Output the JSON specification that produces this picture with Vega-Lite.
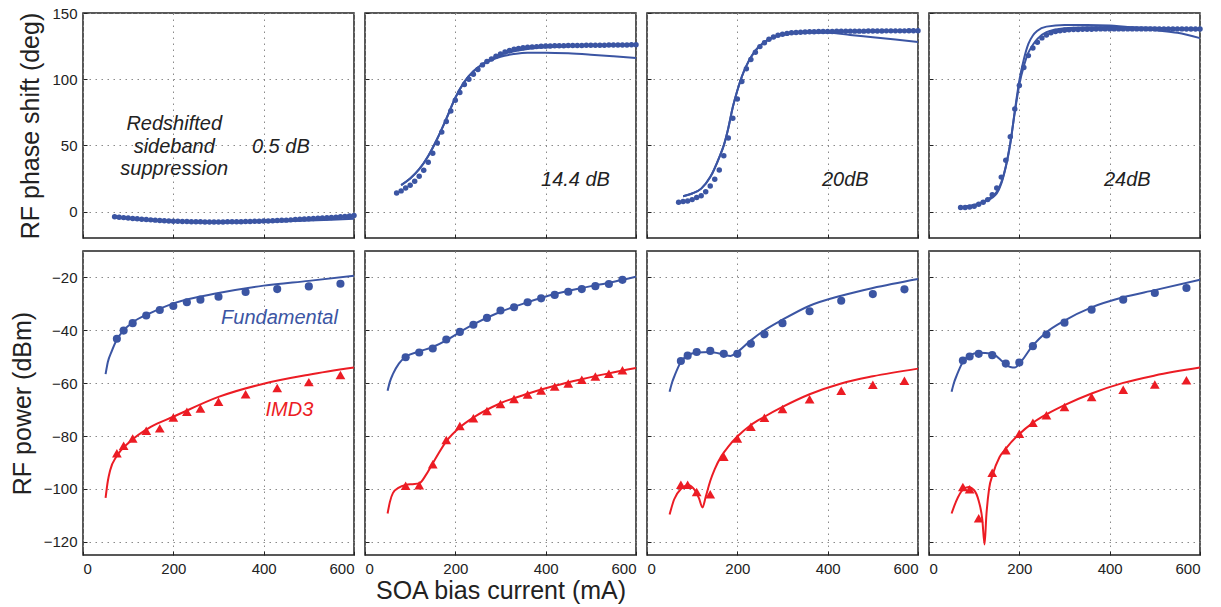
{
"$schema": "https://vega.github.io/schema/vega-lite/v6.json",
"padding": {"left": 9, "top": 5, "right": 5, "bottom": 5},
"background": "white",
"config": {
  "view": {"stroke": "#222222", "strokeWidth": 1.5},
  "axis": {"domain": false, "grid": true, "gridColor": "#8a8a8a", "gridDash": [1.5, 4.5], "gridWidth": 1, "ticks": true, "tickColor": "#222222", "tickSize": -4, "labelPadding": 10, "labelFont": "Liberation Sans", "labelFontSize": 15, "labelColor": "#222222", "titleFont": "Liberation Sans", "titleFontSize": 25, "titleFontWeight": "normal", "titleColor": "#222222", "titlePadding": 8}
},
"datasets": {
"phase": [
{"p":1,"k":"dot","x":70,"y":-4.0},{"p":1,"k":"dot","x":80,"y":-4.3},{"p":1,"k":"dot","x":90,"y":-4.6},{"p":1,"k":"dot","x":100,"y":-4.9},{"p":1,"k":"dot","x":110,"y":-5.2},{"p":1,"k":"dot","x":120,"y":-5.5},{"p":1,"k":"dot","x":130,"y":-5.8},{"p":1,"k":"dot","x":140,"y":-6.0},{"p":1,"k":"dot","x":150,"y":-6.3},{"p":1,"k":"dot","x":160,"y":-6.5},{"p":1,"k":"dot","x":170,"y":-6.7},{"p":1,"k":"dot","x":180,"y":-6.9},{"p":1,"k":"dot","x":190,"y":-7.1},{"p":1,"k":"dot","x":200,"y":-7.3},{"p":1,"k":"dot","x":210,"y":-7.4},{"p":1,"k":"dot","x":220,"y":-7.5},{"p":1,"k":"dot","x":230,"y":-7.6},{"p":1,"k":"dot","x":240,"y":-7.7},{"p":1,"k":"dot","x":250,"y":-7.8},{"p":1,"k":"dot","x":260,"y":-7.8},{"p":1,"k":"dot","x":270,"y":-7.9},{"p":1,"k":"dot","x":280,"y":-7.9},{"p":1,"k":"dot","x":290,"y":-7.9},{"p":1,"k":"dot","x":300,"y":-7.9},{"p":1,"k":"dot","x":310,"y":-7.9},{"p":1,"k":"dot","x":320,"y":-7.8},{"p":1,"k":"dot","x":330,"y":-7.8},{"p":1,"k":"dot","x":340,"y":-7.7},{"p":1,"k":"dot","x":350,"y":-7.7},{"p":1,"k":"dot","x":360,"y":-7.6},{"p":1,"k":"dot","x":370,"y":-7.5},{"p":1,"k":"dot","x":380,"y":-7.4},{"p":1,"k":"dot","x":390,"y":-7.3},{"p":1,"k":"dot","x":400,"y":-7.2},{"p":1,"k":"dot","x":410,"y":-7.1},{"p":1,"k":"dot","x":420,"y":-6.9},{"p":1,"k":"dot","x":430,"y":-6.8},{"p":1,"k":"dot","x":440,"y":-6.6},{"p":1,"k":"dot","x":450,"y":-6.5},{"p":1,"k":"dot","x":460,"y":-6.3},{"p":1,"k":"dot","x":470,"y":-6.1},{"p":1,"k":"dot","x":480,"y":-5.9},{"p":1,"k":"dot","x":490,"y":-5.7},{"p":1,"k":"dot","x":500,"y":-5.5},{"p":1,"k":"dot","x":510,"y":-5.3},{"p":1,"k":"dot","x":520,"y":-5.1},{"p":1,"k":"dot","x":530,"y":-4.9},{"p":1,"k":"dot","x":540,"y":-4.7},{"p":1,"k":"dot","x":550,"y":-4.5},{"p":1,"k":"dot","x":560,"y":-4.3},{"p":1,"k":"dot","x":570,"y":-4.0},{"p":1,"k":"dot","x":580,"y":-3.7},{"p":1,"k":"dot","x":590,"y":-3.4},{"p":1,"k":"dot","x":600,"y":-3.0},
{"p":1,"k":"a","x":70,"y":-4.5},{"p":1,"k":"a","x":100,"y":-5.5},{"p":1,"k":"a","x":150,"y":-6.8},{"p":1,"k":"a","x":200,"y":-7.7},{"p":1,"k":"a","x":250,"y":-8.2},{"p":1,"k":"a","x":300,"y":-8.4},{"p":1,"k":"a","x":350,"y":-8.2},{"p":1,"k":"a","x":400,"y":-7.9},{"p":1,"k":"a","x":450,"y":-7.3},{"p":1,"k":"a","x":500,"y":-6.8},{"p":1,"k":"a","x":550,"y":-6.2},{"p":1,"k":"a","x":600,"y":-5.5},
{"p":1,"k":"b","x":70,"y":-4.2},{"p":1,"k":"b","x":150,"y":-6.4},{"p":1,"k":"b","x":250,"y":-7.9},{"p":1,"k":"b","x":350,"y":-7.8},{"p":1,"k":"b","x":450,"y":-6.6},{"p":1,"k":"b","x":550,"y":-4.8},{"p":1,"k":"b","x":600,"y":-3.8},
{"p":2,"k":"dot","x":70,"y":14},{"p":2,"k":"dot","x":80,"y":15.6},{"p":2,"k":"dot","x":90,"y":17.8},{"p":2,"k":"dot","x":100,"y":19.8},{"p":2,"k":"dot","x":110,"y":22.9},{"p":2,"k":"dot","x":120,"y":26.6},{"p":2,"k":"dot","x":130,"y":31.2},{"p":2,"k":"dot","x":140,"y":37.2},{"p":2,"k":"dot","x":150,"y":44},{"p":2,"k":"dot","x":160,"y":51.8},{"p":2,"k":"dot","x":170,"y":60},{"p":2,"k":"dot","x":180,"y":68},{"p":2,"k":"dot","x":190,"y":76},{"p":2,"k":"dot","x":200,"y":84},{"p":2,"k":"dot","x":210,"y":90},{"p":2,"k":"dot","x":220,"y":96},{"p":2,"k":"dot","x":230,"y":100},{"p":2,"k":"dot","x":240,"y":103.8},{"p":2,"k":"dot","x":250,"y":107.3},{"p":2,"k":"dot","x":260,"y":110.8},{"p":2,"k":"dot","x":270,"y":113.3},{"p":2,"k":"dot","x":280,"y":115.3},{"p":2,"k":"dot","x":290,"y":117.3},{"p":2,"k":"dot","x":300,"y":119},{"p":2,"k":"dot","x":310,"y":120.6},{"p":2,"k":"dot","x":320,"y":121.6},{"p":2,"k":"dot","x":330,"y":122.6},{"p":2,"k":"dot","x":340,"y":123.2},{"p":2,"k":"dot","x":350,"y":123.7},{"p":2,"k":"dot","x":360,"y":124.1},{"p":2,"k":"dot","x":370,"y":124.4},{"p":2,"k":"dot","x":380,"y":124.6},{"p":2,"k":"dot","x":390,"y":124.8},{"p":2,"k":"dot","x":400,"y":125},{"p":2,"k":"dot","x":410,"y":125.1},{"p":2,"k":"dot","x":420,"y":125.2},{"p":2,"k":"dot","x":430,"y":125.3},{"p":2,"k":"dot","x":440,"y":125.3},{"p":2,"k":"dot","x":450,"y":125.4},{"p":2,"k":"dot","x":460,"y":125.4},{"p":2,"k":"dot","x":470,"y":125.5},{"p":2,"k":"dot","x":480,"y":125.5},{"p":2,"k":"dot","x":490,"y":125.6},{"p":2,"k":"dot","x":500,"y":125.6},{"p":2,"k":"dot","x":510,"y":125.7},{"p":2,"k":"dot","x":520,"y":125.7},{"p":2,"k":"dot","x":530,"y":125.7},{"p":2,"k":"dot","x":540,"y":125.8},{"p":2,"k":"dot","x":550,"y":125.8},{"p":2,"k":"dot","x":560,"y":125.8},{"p":2,"k":"dot","x":570,"y":125.9},{"p":2,"k":"dot","x":580,"y":125.9},{"p":2,"k":"dot","x":590,"y":126},{"p":2,"k":"dot","x":600,"y":126},
{"p":2,"k":"a","x":80,"y":20},{"p":2,"k":"a","x":100,"y":25},{"p":2,"k":"a","x":120,"y":32},{"p":2,"k":"a","x":140,"y":42},{"p":2,"k":"a","x":160,"y":55},{"p":2,"k":"a","x":180,"y":70},{"p":2,"k":"a","x":200,"y":86},{"p":2,"k":"a","x":220,"y":98},{"p":2,"k":"a","x":240,"y":106},{"p":2,"k":"a","x":260,"y":111},{"p":2,"k":"a","x":280,"y":114.5},{"p":2,"k":"a","x":300,"y":117},{"p":2,"k":"a","x":330,"y":119},{"p":2,"k":"a","x":360,"y":120},{"p":2,"k":"a","x":400,"y":120},{"p":2,"k":"a","x":450,"y":119.5},{"p":2,"k":"a","x":500,"y":118.5},{"p":2,"k":"a","x":550,"y":117.3},{"p":2,"k":"a","x":600,"y":116},
{"p":2,"k":"b","x":80,"y":20},{"p":2,"k":"b","x":100,"y":25},{"p":2,"k":"b","x":120,"y":32},{"p":2,"k":"b","x":140,"y":42},{"p":2,"k":"b","x":160,"y":55},{"p":2,"k":"b","x":180,"y":70},{"p":2,"k":"b","x":200,"y":86},{"p":2,"k":"b","x":220,"y":98},{"p":2,"k":"b","x":240,"y":106},{"p":2,"k":"b","x":260,"y":111.5},{"p":2,"k":"b","x":280,"y":115.5},{"p":2,"k":"b","x":300,"y":118.5},{"p":2,"k":"b","x":330,"y":121},{"p":2,"k":"b","x":360,"y":122.8},{"p":2,"k":"b","x":400,"y":124},{"p":2,"k":"b","x":450,"y":124.8},{"p":2,"k":"b","x":500,"y":125.3},{"p":2,"k":"b","x":550,"y":125.7},{"p":2,"k":"b","x":600,"y":126},
{"p":3,"k":"dot","x":70,"y":7},{"p":3,"k":"dot","x":80,"y":7.5},{"p":3,"k":"dot","x":90,"y":8},{"p":3,"k":"dot","x":100,"y":9},{"p":3,"k":"dot","x":110,"y":10.6},{"p":3,"k":"dot","x":120,"y":12},{"p":3,"k":"dot","x":130,"y":15},{"p":3,"k":"dot","x":140,"y":19.3},{"p":3,"k":"dot","x":150,"y":24.4},{"p":3,"k":"dot","x":160,"y":31.4},{"p":3,"k":"dot","x":170,"y":42.2},{"p":3,"k":"dot","x":180,"y":55.5},{"p":3,"k":"dot","x":190,"y":70.4},{"p":3,"k":"dot","x":200,"y":85},{"p":3,"k":"dot","x":210,"y":98.2},{"p":3,"k":"dot","x":220,"y":107.8},{"p":3,"k":"dot","x":230,"y":114.8},{"p":3,"k":"dot","x":240,"y":120.4},{"p":3,"k":"dot","x":250,"y":124.6},{"p":3,"k":"dot","x":260,"y":127.6},{"p":3,"k":"dot","x":270,"y":130.2},{"p":3,"k":"dot","x":280,"y":131.9},{"p":3,"k":"dot","x":290,"y":133.2},{"p":3,"k":"dot","x":300,"y":134},{"p":3,"k":"dot","x":310,"y":134.6},{"p":3,"k":"dot","x":320,"y":135},{"p":3,"k":"dot","x":330,"y":135.3},{"p":3,"k":"dot","x":340,"y":135.5},{"p":3,"k":"dot","x":350,"y":135.7},{"p":3,"k":"dot","x":360,"y":135.8},{"p":3,"k":"dot","x":370,"y":135.9},{"p":3,"k":"dot","x":380,"y":136},{"p":3,"k":"dot","x":390,"y":136},{"p":3,"k":"dot","x":400,"y":136.1},{"p":3,"k":"dot","x":410,"y":136.1},{"p":3,"k":"dot","x":420,"y":136.2},{"p":3,"k":"dot","x":430,"y":136.2},{"p":3,"k":"dot","x":440,"y":136.2},{"p":3,"k":"dot","x":450,"y":136.3},{"p":3,"k":"dot","x":460,"y":136.3},{"p":3,"k":"dot","x":470,"y":136.3},{"p":3,"k":"dot","x":480,"y":136.3},{"p":3,"k":"dot","x":490,"y":136.4},{"p":3,"k":"dot","x":500,"y":136.4},{"p":3,"k":"dot","x":510,"y":136.4},{"p":3,"k":"dot","x":520,"y":136.4},{"p":3,"k":"dot","x":530,"y":136.5},{"p":3,"k":"dot","x":540,"y":136.5},{"p":3,"k":"dot","x":550,"y":136.5},{"p":3,"k":"dot","x":560,"y":136.5},{"p":3,"k":"dot","x":570,"y":136.5},{"p":3,"k":"dot","x":580,"y":136.6},{"p":3,"k":"dot","x":590,"y":136.6},{"p":3,"k":"dot","x":600,"y":136.6},
{"p":3,"k":"a","x":80,"y":11.6},{"p":3,"k":"a","x":100,"y":13.6},{"p":3,"k":"a","x":120,"y":17.3},{"p":3,"k":"a","x":140,"y":26},{"p":3,"k":"a","x":160,"y":41},{"p":3,"k":"a","x":170,"y":50},{"p":3,"k":"a","x":180,"y":63},{"p":3,"k":"a","x":190,"y":79},{"p":3,"k":"a","x":200,"y":91.5},{"p":3,"k":"a","x":210,"y":102},{"p":3,"k":"a","x":220,"y":110},{"p":3,"k":"a","x":230,"y":116.5},{"p":3,"k":"a","x":240,"y":121.6},{"p":3,"k":"a","x":260,"y":128},{"p":3,"k":"a","x":280,"y":131.7},{"p":3,"k":"a","x":300,"y":133.7},{"p":3,"k":"a","x":350,"y":135},{"p":3,"k":"a","x":400,"y":135},{"p":3,"k":"a","x":450,"y":133.4},{"p":3,"k":"a","x":500,"y":131.7},{"p":3,"k":"a","x":550,"y":130},{"p":3,"k":"a","x":600,"y":128},
{"p":3,"k":"b","x":80,"y":11.6},{"p":3,"k":"b","x":100,"y":13.6},{"p":3,"k":"b","x":120,"y":17.3},{"p":3,"k":"b","x":140,"y":26},{"p":3,"k":"b","x":160,"y":41},{"p":3,"k":"b","x":170,"y":50},{"p":3,"k":"b","x":180,"y":63},{"p":3,"k":"b","x":190,"y":79},{"p":3,"k":"b","x":200,"y":91.5},{"p":3,"k":"b","x":210,"y":102},{"p":3,"k":"b","x":220,"y":110},{"p":3,"k":"b","x":230,"y":116.5},{"p":3,"k":"b","x":240,"y":121.6},{"p":3,"k":"b","x":260,"y":128},{"p":3,"k":"b","x":280,"y":131.7},{"p":3,"k":"b","x":300,"y":133.8},{"p":3,"k":"b","x":350,"y":135.5},{"p":3,"k":"b","x":400,"y":136},{"p":3,"k":"b","x":450,"y":136.2},{"p":3,"k":"b","x":500,"y":136.3},{"p":3,"k":"b","x":550,"y":136.4},{"p":3,"k":"b","x":600,"y":136.5},
{"p":4,"k":"dot","x":70,"y":3},{"p":4,"k":"dot","x":80,"y":3},{"p":4,"k":"dot","x":90,"y":3.5},{"p":4,"k":"dot","x":100,"y":4},{"p":4,"k":"dot","x":110,"y":5.5},{"p":4,"k":"dot","x":120,"y":7},{"p":4,"k":"dot","x":130,"y":9},{"p":4,"k":"dot","x":140,"y":12.6},{"p":4,"k":"dot","x":150,"y":17.8},{"p":4,"k":"dot","x":160,"y":26},{"p":4,"k":"dot","x":170,"y":38.7},{"p":4,"k":"dot","x":180,"y":56.5},{"p":4,"k":"dot","x":190,"y":77.4},{"p":4,"k":"dot","x":200,"y":95.2},{"p":4,"k":"dot","x":210,"y":108.8},{"p":4,"k":"dot","x":220,"y":117.8},{"p":4,"k":"dot","x":230,"y":123.6},{"p":4,"k":"dot","x":240,"y":127.9},{"p":4,"k":"dot","x":250,"y":131.2},{"p":4,"k":"dot","x":260,"y":133.4},{"p":4,"k":"dot","x":270,"y":135},{"p":4,"k":"dot","x":280,"y":136},{"p":4,"k":"dot","x":290,"y":136.6},{"p":4,"k":"dot","x":300,"y":137},{"p":4,"k":"dot","x":310,"y":137.3},{"p":4,"k":"dot","x":320,"y":137.5},{"p":4,"k":"dot","x":330,"y":137.6},{"p":4,"k":"dot","x":340,"y":137.7},{"p":4,"k":"dot","x":350,"y":137.8},{"p":4,"k":"dot","x":360,"y":137.8},{"p":4,"k":"dot","x":370,"y":137.9},{"p":4,"k":"dot","x":380,"y":138},{"p":4,"k":"dot","x":390,"y":138},{"p":4,"k":"dot","x":400,"y":138},{"p":4,"k":"dot","x":410,"y":138},{"p":4,"k":"dot","x":420,"y":138},{"p":4,"k":"dot","x":430,"y":138},{"p":4,"k":"dot","x":440,"y":138},{"p":4,"k":"dot","x":450,"y":138},{"p":4,"k":"dot","x":460,"y":138},{"p":4,"k":"dot","x":470,"y":138},{"p":4,"k":"dot","x":480,"y":138},{"p":4,"k":"dot","x":490,"y":138},{"p":4,"k":"dot","x":500,"y":138},{"p":4,"k":"dot","x":510,"y":138},{"p":4,"k":"dot","x":520,"y":138},{"p":4,"k":"dot","x":530,"y":138},{"p":4,"k":"dot","x":540,"y":138},{"p":4,"k":"dot","x":550,"y":138},{"p":4,"k":"dot","x":560,"y":138},{"p":4,"k":"dot","x":570,"y":137.9},{"p":4,"k":"dot","x":580,"y":137.9},{"p":4,"k":"dot","x":590,"y":137.9},{"p":4,"k":"dot","x":600,"y":137.9},
{"p":4,"k":"a","x":80,"y":4},{"p":4,"k":"a","x":100,"y":4.5},{"p":4,"k":"a","x":120,"y":7},{"p":4,"k":"a","x":140,"y":10.5},{"p":4,"k":"a","x":150,"y":13.6},{"p":4,"k":"a","x":160,"y":21},{"p":4,"k":"a","x":170,"y":33.7},{"p":4,"k":"a","x":180,"y":51},{"p":4,"k":"a","x":190,"y":76},{"p":4,"k":"a","x":200,"y":99},{"p":4,"k":"a","x":210,"y":115},{"p":4,"k":"a","x":220,"y":126.6},{"p":4,"k":"a","x":230,"y":133},{"p":4,"k":"a","x":240,"y":136.6},{"p":4,"k":"a","x":260,"y":139.7},{"p":4,"k":"a","x":300,"y":141},{"p":4,"k":"a","x":350,"y":141},{"p":4,"k":"a","x":400,"y":140.5},{"p":4,"k":"a","x":450,"y":139},{"p":4,"k":"a","x":500,"y":137},{"p":4,"k":"a","x":550,"y":135},{"p":4,"k":"a","x":600,"y":131},
{"p":4,"k":"b","x":80,"y":4},{"p":4,"k":"b","x":100,"y":5},{"p":4,"k":"b","x":120,"y":7.5},{"p":4,"k":"b","x":140,"y":11.5},{"p":4,"k":"b","x":150,"y":15},{"p":4,"k":"b","x":160,"y":22},{"p":4,"k":"b","x":170,"y":34},{"p":4,"k":"b","x":180,"y":52},{"p":4,"k":"b","x":190,"y":75},{"p":4,"k":"b","x":200,"y":96},{"p":4,"k":"b","x":210,"y":110},{"p":4,"k":"b","x":220,"y":120},{"p":4,"k":"b","x":230,"y":126},{"p":4,"k":"b","x":240,"y":130.5},{"p":4,"k":"b","x":260,"y":135.5},{"p":4,"k":"b","x":300,"y":138.5},{"p":4,"k":"b","x":350,"y":139.3},{"p":4,"k":"b","x":400,"y":139.5},{"p":4,"k":"b","x":450,"y":139.3},{"p":4,"k":"b","x":500,"y":138.9},{"p":4,"k":"b","x":550,"y":138.3},{"p":4,"k":"b","x":600,"y":137.6}
],
"power": [
{"p":1,"s":"F","k":"m","x":75,"y":-43.2},{"p":1,"s":"F","k":"m","x":90,"y":-40.1},{"p":1,"s":"F","k":"m","x":110,"y":-37.3},{"p":1,"s":"F","k":"m","x":140,"y":-34.4},{"p":1,"s":"F","k":"m","x":170,"y":-32.3},{"p":1,"s":"F","k":"m","x":200,"y":-30.8},{"p":1,"s":"F","k":"m","x":230,"y":-29.4},{"p":1,"s":"F","k":"m","x":260,"y":-28.4},{"p":1,"s":"F","k":"m","x":300,"y":-27.3},{"p":1,"s":"F","k":"m","x":360,"y":-25.5},{"p":1,"s":"F","k":"m","x":430,"y":-24.4},{"p":1,"s":"F","k":"m","x":500,"y":-23.4},{"p":1,"s":"F","k":"m","x":570,"y":-22.4},
{"p":1,"s":"F","k":"f","x":50,"y":-56.6},{"p":1,"s":"F","k":"f","x":55,"y":-52},{"p":1,"s":"F","k":"f","x":63,"y":-48.2},{"p":1,"s":"F","k":"f","x":75,"y":-43.5},{"p":1,"s":"F","k":"f","x":90,"y":-40},{"p":1,"s":"F","k":"f","x":110,"y":-37},{"p":1,"s":"F","k":"f","x":150,"y":-33.4},{"p":1,"s":"F","k":"f","x":200,"y":-29.8},{"p":1,"s":"F","k":"f","x":300,"y":-25.9},{"p":1,"s":"F","k":"f","x":400,"y":-23.1},{"p":1,"s":"F","k":"f","x":500,"y":-21.3},{"p":1,"s":"F","k":"f","x":600,"y":-19.4},
{"p":1,"s":"I","k":"m","x":75,"y":-86.5},{"p":1,"s":"I","k":"m","x":90,"y":-83.7},{"p":1,"s":"I","k":"m","x":110,"y":-80.9},{"p":1,"s":"I","k":"m","x":140,"y":-78},{"p":1,"s":"I","k":"m","x":170,"y":-77.1},{"p":1,"s":"I","k":"m","x":200,"y":-73},{"p":1,"s":"I","k":"m","x":230,"y":-70.8},{"p":1,"s":"I","k":"m","x":260,"y":-69.6},{"p":1,"s":"I","k":"m","x":300,"y":-67},{"p":1,"s":"I","k":"m","x":360,"y":-64.2},{"p":1,"s":"I","k":"m","x":430,"y":-61.8},{"p":1,"s":"I","k":"m","x":500,"y":-59.6},{"p":1,"s":"I","k":"m","x":570,"y":-56.9},
{"p":1,"s":"I","k":"f","x":50,"y":-103.4},{"p":1,"s":"I","k":"f","x":55,"y":-97},{"p":1,"s":"I","k":"f","x":60,"y":-93},{"p":1,"s":"I","k":"f","x":75,"y":-87.5},{"p":1,"s":"I","k":"f","x":100,"y":-82.7},{"p":1,"s":"I","k":"f","x":150,"y":-76.5},{"p":1,"s":"I","k":"f","x":200,"y":-72.7},{"p":1,"s":"I","k":"f","x":300,"y":-65.2},{"p":1,"s":"I","k":"f","x":400,"y":-60.2},{"p":1,"s":"I","k":"f","x":500,"y":-56.8},{"p":1,"s":"I","k":"f","x":600,"y":-54.1},
{"p":2,"s":"F","k":"m","x":90,"y":-50.2},{"p":2,"s":"F","k":"m","x":120,"y":-48.4},{"p":2,"s":"F","k":"m","x":150,"y":-46.9},{"p":2,"s":"F","k":"m","x":180,"y":-43.5},{"p":2,"s":"F","k":"m","x":210,"y":-40.6},{"p":2,"s":"F","k":"m","x":240,"y":-37.9},{"p":2,"s":"F","k":"m","x":270,"y":-35.3},{"p":2,"s":"F","k":"m","x":300,"y":-32.5},{"p":2,"s":"F","k":"m","x":330,"y":-31.3},{"p":2,"s":"F","k":"m","x":360,"y":-29.4},{"p":2,"s":"F","k":"m","x":390,"y":-27.9},{"p":2,"s":"F","k":"m","x":420,"y":-26.6},{"p":2,"s":"F","k":"m","x":450,"y":-25.4},{"p":2,"s":"F","k":"m","x":480,"y":-24.4},{"p":2,"s":"F","k":"m","x":510,"y":-23.3},{"p":2,"s":"F","k":"m","x":540,"y":-22.5},{"p":2,"s":"F","k":"m","x":570,"y":-20.9},
{"p":2,"s":"F","k":"f","x":50,"y":-62.9},{"p":2,"s":"F","k":"f","x":55,"y":-59.5},{"p":2,"s":"F","k":"f","x":62,"y":-56.5},{"p":2,"s":"F","k":"f","x":75,"y":-52.6},{"p":2,"s":"F","k":"f","x":90,"y":-50},{"p":2,"s":"F","k":"f","x":120,"y":-48},{"p":2,"s":"F","k":"f","x":150,"y":-46.3},{"p":2,"s":"F","k":"f","x":180,"y":-43.8},{"p":2,"s":"F","k":"f","x":210,"y":-40.7},{"p":2,"s":"F","k":"f","x":240,"y":-37.8},{"p":2,"s":"F","k":"f","x":300,"y":-33},{"p":2,"s":"F","k":"f","x":360,"y":-29.4},{"p":2,"s":"F","k":"f","x":420,"y":-26.3},{"p":2,"s":"F","k":"f","x":480,"y":-24},{"p":2,"s":"F","k":"f","x":540,"y":-22},{"p":2,"s":"F","k":"f","x":600,"y":-19.7},
{"p":2,"s":"I","k":"m","x":90,"y":-98.8},{"p":2,"s":"I","k":"m","x":120,"y":-98.6},{"p":2,"s":"I","k":"m","x":150,"y":-90.7},{"p":2,"s":"I","k":"m","x":180,"y":-81.5},{"p":2,"s":"I","k":"m","x":210,"y":-76.2},{"p":2,"s":"I","k":"m","x":240,"y":-73.3},{"p":2,"s":"I","k":"m","x":270,"y":-70.5},{"p":2,"s":"I","k":"m","x":300,"y":-67.9},{"p":2,"s":"I","k":"m","x":330,"y":-66},{"p":2,"s":"I","k":"m","x":360,"y":-64.3},{"p":2,"s":"I","k":"m","x":390,"y":-62.8},{"p":2,"s":"I","k":"m","x":420,"y":-61.3},{"p":2,"s":"I","k":"m","x":450,"y":-60.1},{"p":2,"s":"I","k":"m","x":480,"y":-58.7},{"p":2,"s":"I","k":"m","x":510,"y":-57.5},{"p":2,"s":"I","k":"m","x":540,"y":-56.4},{"p":2,"s":"I","k":"m","x":570,"y":-55.1},
{"p":2,"s":"I","k":"f","x":50,"y":-109.3},{"p":2,"s":"I","k":"f","x":55,"y":-105},{"p":2,"s":"I","k":"f","x":62,"y":-101.5},{"p":2,"s":"I","k":"f","x":75,"y":-99.5},{"p":2,"s":"I","k":"f","x":90,"y":-98.5},{"p":2,"s":"I","k":"f","x":105,"y":-98.2},{"p":2,"s":"I","k":"f","x":120,"y":-97.9},{"p":2,"s":"I","k":"f","x":135,"y":-94.7},{"p":2,"s":"I","k":"f","x":150,"y":-90.3},{"p":2,"s":"I","k":"f","x":180,"y":-82},{"p":2,"s":"I","k":"f","x":210,"y":-76.7},{"p":2,"s":"I","k":"f","x":240,"y":-73},{"p":2,"s":"I","k":"f","x":300,"y":-67.6},{"p":2,"s":"I","k":"f","x":360,"y":-64},{"p":2,"s":"I","k":"f","x":420,"y":-61},{"p":2,"s":"I","k":"f","x":480,"y":-58.5},{"p":2,"s":"I","k":"f","x":540,"y":-56.3},{"p":2,"s":"I","k":"f","x":600,"y":-54.3},
{"p":3,"s":"F","k":"m","x":75,"y":-51.6},{"p":3,"s":"F","k":"m","x":90,"y":-49.6},{"p":3,"s":"F","k":"m","x":110,"y":-48.2},{"p":3,"s":"F","k":"m","x":140,"y":-47.8},{"p":3,"s":"F","k":"m","x":170,"y":-48.9},{"p":3,"s":"F","k":"m","x":200,"y":-48.9},{"p":3,"s":"F","k":"m","x":230,"y":-45.1},{"p":3,"s":"F","k":"m","x":260,"y":-41.5},{"p":3,"s":"F","k":"m","x":300,"y":-37.3},{"p":3,"s":"F","k":"m","x":360,"y":-32.8},{"p":3,"s":"F","k":"m","x":430,"y":-28.8},{"p":3,"s":"F","k":"m","x":500,"y":-26.3},{"p":3,"s":"F","k":"m","x":570,"y":-24.5},
{"p":3,"s":"F","k":"f","x":50,"y":-63.2},{"p":3,"s":"F","k":"f","x":55,"y":-60},{"p":3,"s":"F","k":"f","x":62,"y":-56.8},{"p":3,"s":"F","k":"f","x":75,"y":-52},{"p":3,"s":"F","k":"f","x":90,"y":-49.5},{"p":3,"s":"F","k":"f","x":110,"y":-48.4},{"p":3,"s":"F","k":"f","x":140,"y":-48.2},{"p":3,"s":"F","k":"f","x":170,"y":-49.2},{"p":3,"s":"F","k":"f","x":185,"y":-49.7},{"p":3,"s":"F","k":"f","x":200,"y":-48.2},{"p":3,"s":"F","k":"f","x":230,"y":-43.8},{"p":3,"s":"F","k":"f","x":260,"y":-40},{"p":3,"s":"F","k":"f","x":300,"y":-36},{"p":3,"s":"F","k":"f","x":360,"y":-30.7},{"p":3,"s":"F","k":"f","x":430,"y":-26.9},{"p":3,"s":"F","k":"f","x":500,"y":-24},{"p":3,"s":"F","k":"f","x":600,"y":-20.6},
{"p":3,"s":"I","k":"m","x":75,"y":-98.4},{"p":3,"s":"I","k":"m","x":90,"y":-98.4},{"p":3,"s":"I","k":"m","x":110,"y":-101.2},{"p":3,"s":"I","k":"m","x":140,"y":-102},{"p":3,"s":"I","k":"m","x":170,"y":-87.8},{"p":3,"s":"I","k":"m","x":200,"y":-80.9},{"p":3,"s":"I","k":"m","x":230,"y":-76.5},{"p":3,"s":"I","k":"m","x":260,"y":-73.1},{"p":3,"s":"I","k":"m","x":300,"y":-69.8},{"p":3,"s":"I","k":"m","x":360,"y":-66.1},{"p":3,"s":"I","k":"m","x":430,"y":-62.9},{"p":3,"s":"I","k":"m","x":500,"y":-60.6},{"p":3,"s":"I","k":"m","x":570,"y":-59.1},
{"p":3,"s":"I","k":"f","x":50,"y":-109.7},{"p":3,"s":"I","k":"f","x":60,"y":-104},{"p":3,"s":"I","k":"f","x":75,"y":-100},{"p":3,"s":"I","k":"f","x":92,"y":-98.6},{"p":3,"s":"I","k":"f","x":105,"y":-100.3},{"p":3,"s":"I","k":"f","x":115,"y":-103.5},{"p":3,"s":"I","k":"f","x":123,"y":-107},{"p":3,"s":"I","k":"f","x":130,"y":-103},{"p":3,"s":"I","k":"f","x":140,"y":-97},{"p":3,"s":"I","k":"f","x":150,"y":-92.5},{"p":3,"s":"I","k":"f","x":165,"y":-87.5},{"p":3,"s":"I","k":"f","x":180,"y":-84},{"p":3,"s":"I","k":"f","x":200,"y":-80.2},{"p":3,"s":"I","k":"f","x":230,"y":-75.8},{"p":3,"s":"I","k":"f","x":260,"y":-72.7},{"p":3,"s":"I","k":"f","x":300,"y":-69},{"p":3,"s":"I","k":"f","x":360,"y":-64.2},{"p":3,"s":"I","k":"f","x":430,"y":-60.1},{"p":3,"s":"I","k":"f","x":500,"y":-57.4},{"p":3,"s":"I","k":"f","x":600,"y":-54.5},
{"p":4,"s":"F","k":"m","x":75,"y":-51.4},{"p":4,"s":"F","k":"m","x":90,"y":-49.9},{"p":4,"s":"F","k":"m","x":110,"y":-48.9},{"p":4,"s":"F","k":"m","x":140,"y":-49.4},{"p":4,"s":"F","k":"m","x":170,"y":-52.6},{"p":4,"s":"F","k":"m","x":200,"y":-52.2},{"p":4,"s":"F","k":"m","x":230,"y":-46},{"p":4,"s":"F","k":"m","x":260,"y":-41.6},{"p":4,"s":"F","k":"m","x":300,"y":-37.1},{"p":4,"s":"F","k":"m","x":360,"y":-32.2},{"p":4,"s":"F","k":"m","x":430,"y":-28.4},{"p":4,"s":"F","k":"m","x":500,"y":-25.9},{"p":4,"s":"F","k":"m","x":570,"y":-24},
{"p":4,"s":"F","k":"f","x":50,"y":-63.2},{"p":4,"s":"F","k":"f","x":55,"y":-60},{"p":4,"s":"F","k":"f","x":62,"y":-56.8},{"p":4,"s":"F","k":"f","x":75,"y":-52},{"p":4,"s":"F","k":"f","x":90,"y":-49.5},{"p":4,"s":"F","k":"f","x":110,"y":-48.5},{"p":4,"s":"F","k":"f","x":140,"y":-48.9},{"p":4,"s":"F","k":"f","x":160,"y":-51.4},{"p":4,"s":"F","k":"f","x":180,"y":-53.9},{"p":4,"s":"F","k":"f","x":190,"y":-54.1},{"p":4,"s":"F","k":"f","x":200,"y":-52.6},{"p":4,"s":"F","k":"f","x":230,"y":-45.7},{"p":4,"s":"F","k":"f","x":260,"y":-40.7},{"p":4,"s":"F","k":"f","x":300,"y":-36.3},{"p":4,"s":"F","k":"f","x":360,"y":-31.3},{"p":4,"s":"F","k":"f","x":430,"y":-27.5},{"p":4,"s":"F","k":"f","x":500,"y":-24.8},{"p":4,"s":"F","k":"f","x":600,"y":-20.9},
{"p":4,"s":"I","k":"m","x":75,"y":-99.3},{"p":4,"s":"I","k":"m","x":90,"y":-100.1},{"p":4,"s":"I","k":"m","x":110,"y":-111.1},{"p":4,"s":"I","k":"m","x":140,"y":-93.9},{"p":4,"s":"I","k":"m","x":170,"y":-85.4},{"p":4,"s":"I","k":"m","x":200,"y":-79.1},{"p":4,"s":"I","k":"m","x":230,"y":-75},{"p":4,"s":"I","k":"m","x":260,"y":-72.1},{"p":4,"s":"I","k":"m","x":300,"y":-69},{"p":4,"s":"I","k":"m","x":360,"y":-65.2},{"p":4,"s":"I","k":"m","x":430,"y":-62.5},{"p":4,"s":"I","k":"m","x":500,"y":-60.5},{"p":4,"s":"I","k":"m","x":570,"y":-58.9},
{"p":4,"s":"I","k":"f","x":50,"y":-109.3},{"p":4,"s":"I","k":"f","x":60,"y":-104.7},{"p":4,"s":"I","k":"f","x":75,"y":-100.3},{"p":4,"s":"I","k":"f","x":88,"y":-99.3},{"p":4,"s":"I","k":"f","x":100,"y":-100.5},{"p":4,"s":"I","k":"f","x":110,"y":-104.5},{"p":4,"s":"I","k":"f","x":118,"y":-111.5},{"p":4,"s":"I","k":"f","x":123,"y":-121},{"p":4,"s":"I","k":"f","x":127,"y":-110},{"p":4,"s":"I","k":"f","x":133,"y":-100},{"p":4,"s":"I","k":"f","x":141,"y":-94.6},{"p":4,"s":"I","k":"f","x":156,"y":-88},{"p":4,"s":"I","k":"f","x":170,"y":-84.8},{"p":4,"s":"I","k":"f","x":200,"y":-79.2},{"p":4,"s":"I","k":"f","x":230,"y":-75},{"p":4,"s":"I","k":"f","x":260,"y":-71.8},{"p":4,"s":"I","k":"f","x":300,"y":-68.3},{"p":4,"s":"I","k":"f","x":360,"y":-63.9},{"p":4,"s":"I","k":"f","x":430,"y":-59.9},{"p":4,"s":"I","k":"f","x":500,"y":-57.1},{"p":4,"s":"I","k":"f","x":600,"y":-54.1}
],
"notes": [
{"p":1,"r":"top","s":"N","x":202,"y":66.3,"t":"Redshifted"},
{"p":1,"r":"top","s":"N","x":202,"y":48.7,"t":"sideband"},
{"p":1,"r":"top","s":"N","x":202,"y":32.4,"t":"suppression"},
{"p":1,"r":"top","s":"N","x":438,"y":48.7,"t":"0.5 dB"},
{"p":2,"r":"top","s":"N","x":466,"y":23.6,"t":"14.4 dB"},
{"p":3,"r":"top","s":"N","x":439,"y":23.6,"t":"20dB"},
{"p":4,"r":"top","s":"N","x":439,"y":23.6,"t":"24dB"},
{"p":1,"r":"bot","s":"F","x":435,"y":-35.3,"t":"Fundamental"},
{"p":1,"r":"bot","s":"I","x":457,"y":-70.2,"t":"IMD3"}
]
},
"columns": 4,
"bounds": "flush",
"spacing": {"row": 13, "column": 11},
"concat": [
{
 "width": 271, "height": 225,
 "encoding": {
  "x": {"field": "x", "type": "quantitative", "scale": {"domain": [0, 600], "nice": false, "zero": false}, "axis": {"values": [0, 200, 400, 600], "tickCount": 4, "labels": false, "title": null}},
  "y": {"field": "y", "type": "quantitative", "scale": {"domain": [-20, 150], "nice": false, "zero": false}, "axis": {"values": [0, 50, 100, 150], "tickCount": 4, "title": "RF phase shift (deg)"}}
 },
 "layer": [
  {"data": {"name": "phase"}, "transform": [{"filter": "datum.p == 1 && datum.k != 'dot'"}], "mark": {"type": "line", "color": "#3b55a3", "strokeWidth": 2, "interpolate": "monotone"}, "encoding": {"detail": {"field": "k"}}},
  {"data": {"name": "phase"}, "transform": [{"filter": "datum.p == 1 && datum.k == 'dot'"}], "mark": {"type": "circle", "color": "#3b55a3", "size": 30, "opacity": 1}},
  {"data": {"name": "notes"}, "transform": [{"filter": "datum.p == 1 && datum.r == 'top'"}], "mark": {"type": "text", "font": "Liberation Sans", "fontStyle": "italic", "fontSize": 20, "color": "#222222"}, "encoding": {"text": {"field": "t"}}}
 ]
},
{
 "width": 271, "height": 225,
 "encoding": {
  "x": {"field": "x", "type": "quantitative", "scale": {"domain": [0, 600], "nice": false, "zero": false}, "axis": {"values": [0, 200, 400, 600], "tickCount": 4, "labels": false, "title": null}},
  "y": {"field": "y", "type": "quantitative", "scale": {"domain": [-20, 150], "nice": false, "zero": false}, "axis": {"values": [0, 50, 100, 150], "tickCount": 4, "labels": false, "title": null}}
 },
 "layer": [
  {"data": {"name": "phase"}, "transform": [{"filter": "datum.p == 2 && datum.k != 'dot'"}], "mark": {"type": "line", "color": "#3b55a3", "strokeWidth": 2, "interpolate": "monotone"}, "encoding": {"detail": {"field": "k"}}},
  {"data": {"name": "phase"}, "transform": [{"filter": "datum.p == 2 && datum.k == 'dot'"}], "mark": {"type": "circle", "color": "#3b55a3", "size": 30, "opacity": 1}},
  {"data": {"name": "notes"}, "transform": [{"filter": "datum.p == 2 && datum.r == 'top'"}], "mark": {"type": "text", "font": "Liberation Sans", "fontStyle": "italic", "fontSize": 20, "color": "#222222"}, "encoding": {"text": {"field": "t"}}}
 ]
},
{
 "width": 271, "height": 225,
 "encoding": {
  "x": {"field": "x", "type": "quantitative", "scale": {"domain": [0, 600], "nice": false, "zero": false}, "axis": {"values": [0, 200, 400, 600], "tickCount": 4, "labels": false, "title": null}},
  "y": {"field": "y", "type": "quantitative", "scale": {"domain": [-20, 150], "nice": false, "zero": false}, "axis": {"values": [0, 50, 100, 150], "tickCount": 4, "labels": false, "title": null}}
 },
 "layer": [
  {"data": {"name": "phase"}, "transform": [{"filter": "datum.p == 3 && datum.k != 'dot'"}], "mark": {"type": "line", "color": "#3b55a3", "strokeWidth": 2, "interpolate": "monotone"}, "encoding": {"detail": {"field": "k"}}},
  {"data": {"name": "phase"}, "transform": [{"filter": "datum.p == 3 && datum.k == 'dot'"}], "mark": {"type": "circle", "color": "#3b55a3", "size": 30, "opacity": 1}},
  {"data": {"name": "notes"}, "transform": [{"filter": "datum.p == 3 && datum.r == 'top'"}], "mark": {"type": "text", "font": "Liberation Sans", "fontStyle": "italic", "fontSize": 20, "color": "#222222"}, "encoding": {"text": {"field": "t"}}}
 ]
},
{
 "width": 271, "height": 225,
 "encoding": {
  "x": {"field": "x", "type": "quantitative", "scale": {"domain": [0, 600], "nice": false, "zero": false}, "axis": {"values": [0, 200, 400, 600], "tickCount": 4, "labels": false, "title": null}},
  "y": {"field": "y", "type": "quantitative", "scale": {"domain": [-20, 150], "nice": false, "zero": false}, "axis": {"values": [0, 50, 100, 150], "tickCount": 4, "labels": false, "title": null}}
 },
 "layer": [
  {"data": {"name": "phase"}, "transform": [{"filter": "datum.p == 4 && datum.k != 'dot'"}], "mark": {"type": "line", "color": "#3b55a3", "strokeWidth": 2, "interpolate": "monotone"}, "encoding": {"detail": {"field": "k"}}},
  {"data": {"name": "phase"}, "transform": [{"filter": "datum.p == 4 && datum.k == 'dot'"}], "mark": {"type": "circle", "color": "#3b55a3", "size": 30, "opacity": 1}},
  {"data": {"name": "notes"}, "transform": [{"filter": "datum.p == 4 && datum.r == 'top'"}], "mark": {"type": "text", "font": "Liberation Sans", "fontStyle": "italic", "fontSize": 20, "color": "#222222"}, "encoding": {"text": {"field": "t"}}}
 ]
},
{
 "width": 271, "height": 304,
 "encoding": {
  "x": {"field": "x", "type": "quantitative", "scale": {"domain": [0, 600], "nice": false, "zero": false}, "axis": {"values": [0, 200, 400, 600], "tickCount": 4, "title": null}},
  "y": {"field": "y", "type": "quantitative", "scale": {"domain": [-125, -10], "nice": false, "zero": false}, "axis": {"values": [-120, -100, -80, -60, -40, -20], "tickCount": 6, "title": "RF power (dBm)"}}
 },
 "layer": [
  {"data": {"name": "power"}, "transform": [{"filter": "datum.p == 1 && datum.k == 'f'"}], "mark": {"type": "line", "strokeWidth": 2, "interpolate": "monotone"}, "encoding": {"detail": {"field": "s"}, "color": {"field": "s", "type": "nominal", "scale": {"domain": ["F", "I", "N"], "range": ["#3b55a3", "#ec1c24", "#222222"]}, "legend": null}}},
  {"data": {"name": "power"}, "transform": [{"filter": "datum.p == 1 && datum.k == 'm'"}], "mark": {"type": "point", "filled": true, "opacity": 1}, "encoding": {"color": {"field": "s", "type": "nominal", "scale": {"domain": ["F", "I", "N"], "range": ["#3b55a3", "#ec1c24", "#222222"]}, "legend": null}, "shape": {"field": "s", "type": "nominal", "scale": {"domain": ["F", "I"], "range": ["circle", "triangle-up"]}, "legend": null}, "size": {"field": "s", "type": "nominal", "scale": {"domain": ["F", "I"], "range": [66, 95]}, "legend": null}}},
  {"data": {"name": "notes"}, "transform": [{"filter": "datum.p == 1 && datum.r == 'bot'"}], "mark": {"type": "text", "font": "Liberation Sans", "fontStyle": "italic", "fontSize": 20}, "encoding": {"text": {"field": "t"}, "color": {"field": "s", "type": "nominal", "scale": {"domain": ["F", "I", "N"], "range": ["#3b55a3", "#ec1c24", "#222222"]}, "legend": null}}}
 ]
},
{
 "width": 271, "height": 304,
 "encoding": {
  "x": {"field": "x", "type": "quantitative", "scale": {"domain": [0, 600], "nice": false, "zero": false}, "axis": {"values": [0, 200, 400, 600], "tickCount": 4, "title": "SOA bias current (mA)", "titlePadding": 2}},
  "y": {"field": "y", "type": "quantitative", "scale": {"domain": [-125, -10], "nice": false, "zero": false}, "axis": {"values": [-120, -100, -80, -60, -40, -20], "tickCount": 6, "labels": false, "title": null}}
 },
 "layer": [
  {"data": {"name": "power"}, "transform": [{"filter": "datum.p == 2 && datum.k == 'f'"}], "mark": {"type": "line", "strokeWidth": 2, "interpolate": "monotone"}, "encoding": {"detail": {"field": "s"}, "color": {"field": "s", "type": "nominal", "scale": {"domain": ["F", "I", "N"], "range": ["#3b55a3", "#ec1c24", "#222222"]}, "legend": null}}},
  {"data": {"name": "power"}, "transform": [{"filter": "datum.p == 2 && datum.k == 'm'"}], "mark": {"type": "point", "filled": true, "opacity": 1}, "encoding": {"color": {"field": "s", "type": "nominal", "scale": {"domain": ["F", "I", "N"], "range": ["#3b55a3", "#ec1c24", "#222222"]}, "legend": null}, "shape": {"field": "s", "type": "nominal", "scale": {"domain": ["F", "I"], "range": ["circle", "triangle-up"]}, "legend": null}, "size": {"field": "s", "type": "nominal", "scale": {"domain": ["F", "I"], "range": [66, 95]}, "legend": null}}}
 ]
},
{
 "width": 271, "height": 304,
 "encoding": {
  "x": {"field": "x", "type": "quantitative", "scale": {"domain": [0, 600], "nice": false, "zero": false}, "axis": {"values": [0, 200, 400, 600], "tickCount": 4, "title": null}},
  "y": {"field": "y", "type": "quantitative", "scale": {"domain": [-125, -10], "nice": false, "zero": false}, "axis": {"values": [-120, -100, -80, -60, -40, -20], "tickCount": 6, "labels": false, "title": null}}
 },
 "layer": [
  {"data": {"name": "power"}, "transform": [{"filter": "datum.p == 3 && datum.k == 'f'"}], "mark": {"type": "line", "strokeWidth": 2, "interpolate": "monotone"}, "encoding": {"detail": {"field": "s"}, "color": {"field": "s", "type": "nominal", "scale": {"domain": ["F", "I", "N"], "range": ["#3b55a3", "#ec1c24", "#222222"]}, "legend": null}}},
  {"data": {"name": "power"}, "transform": [{"filter": "datum.p == 3 && datum.k == 'm'"}], "mark": {"type": "point", "filled": true, "opacity": 1}, "encoding": {"color": {"field": "s", "type": "nominal", "scale": {"domain": ["F", "I", "N"], "range": ["#3b55a3", "#ec1c24", "#222222"]}, "legend": null}, "shape": {"field": "s", "type": "nominal", "scale": {"domain": ["F", "I"], "range": ["circle", "triangle-up"]}, "legend": null}, "size": {"field": "s", "type": "nominal", "scale": {"domain": ["F", "I"], "range": [66, 95]}, "legend": null}}}
 ]
},
{
 "width": 271, "height": 304,
 "encoding": {
  "x": {"field": "x", "type": "quantitative", "scale": {"domain": [0, 600], "nice": false, "zero": false}, "axis": {"values": [0, 200, 400, 600], "tickCount": 4, "title": null}},
  "y": {"field": "y", "type": "quantitative", "scale": {"domain": [-125, -10], "nice": false, "zero": false}, "axis": {"values": [-120, -100, -80, -60, -40, -20], "tickCount": 6, "labels": false, "title": null}}
 },
 "layer": [
  {"data": {"name": "power"}, "transform": [{"filter": "datum.p == 4 && datum.k == 'f'"}], "mark": {"type": "line", "strokeWidth": 2, "interpolate": "monotone"}, "encoding": {"detail": {"field": "s"}, "color": {"field": "s", "type": "nominal", "scale": {"domain": ["F", "I", "N"], "range": ["#3b55a3", "#ec1c24", "#222222"]}, "legend": null}}},
  {"data": {"name": "power"}, "transform": [{"filter": "datum.p == 4 && datum.k == 'm'"}], "mark": {"type": "point", "filled": true, "opacity": 1}, "encoding": {"color": {"field": "s", "type": "nominal", "scale": {"domain": ["F", "I", "N"], "range": ["#3b55a3", "#ec1c24", "#222222"]}, "legend": null}, "shape": {"field": "s", "type": "nominal", "scale": {"domain": ["F", "I"], "range": ["circle", "triangle-up"]}, "legend": null}, "size": {"field": "s", "type": "nominal", "scale": {"domain": ["F", "I"], "range": [66, 95]}, "legend": null}}}
 ]
}
]
}
